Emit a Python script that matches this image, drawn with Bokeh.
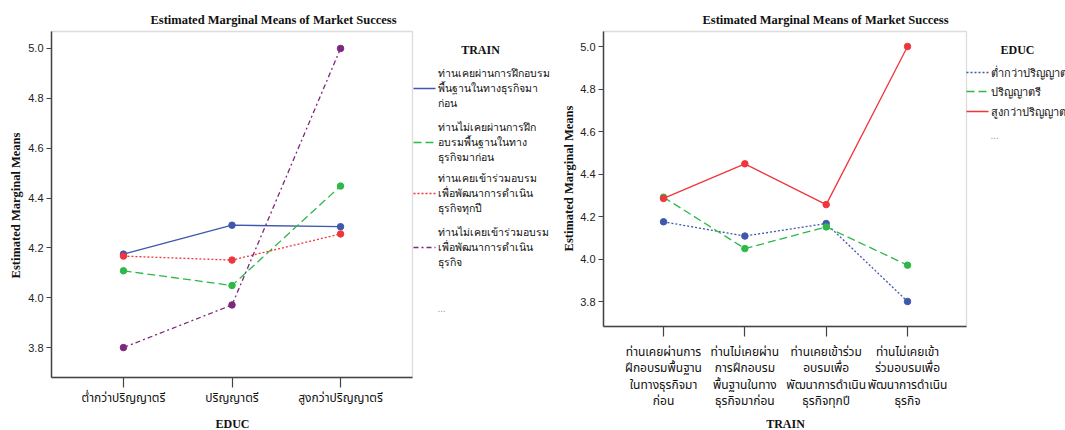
import math
from bokeh.plotting import figure
from bokeh.models import (Range1d, FixedTicker, PrintfTickFormatter, Label, LabelSet,
                          ColumnDataSource, LinearAxis, BoxAnnotation)
from bokeh.embed import file_html
from bokeh.resources import INLINE

# ---------------- data ----------------
educ_labels = ["ต่ำกว่าปริญญาตรี", "ปริญญาตรี", "สูงกว่าปริญญาตรี"]

train_legend_lines = [
    ["ท่านเคยผ่านการฝึกอบรม", "พื้นฐานในทางธุรกิจมา", "ก่อน"],
    ["ท่านไม่เคยผ่านการฝึก", "อบรมพื้นฐานในทาง", "ธุรกิจมาก่อน"],
    ["ท่านเคยเข้าร่วมอบรม", "เพื่อพัฒนาการดำเนิน", "ธุรกิจทุกปี"],
    ["ท่านไม่เคยเข้าร่วมอบรม", "เพื่อพัฒนาการดำเนิน", "ธุรกิจ"],
]
train_tick_labels = [
    "ท่านเคยผ่านการ\nฝึกอบรมพื้นฐาน\nในทางธุรกิจมา\nก่อน",
    "ท่านไม่เคยผ่าน\nการฝึกอบรม\nพื้นฐานในทาง\nธุรกิจมาก่อน",
    "ท่านเคยเข้าร่วม\nอบรมเพื่อ\nพัฒนาการดำเนิน\nธุรกิจทุกปี",
    "ท่านไม่เคยเข้า\nร่วมอบรมเพื่อ\nพัฒนาการดำเนิน\nธุรกิจ",
]

# estimated marginal means: one list per TRAIN level, across EDUC levels
train1_means = [4.175, 4.291, 4.285]
train2_means = [4.108, 4.049, 4.448]
train3_means = [4.167, 4.151, 4.256]
train4_means = [3.800, 3.971, 5.000]
train_means = [train1_means, train2_means, train3_means, train4_means]

y_ticks = [3.8, 4.0, 4.2, 4.4, 4.6, 4.8, 5.0]

title_text = "Estimated Marginal Means of Market Success"
y_title = "Estimated Marginal Means"

# ---------------- styles ----------------
BLUE, GREEN, RED, PURPLE = "#3E58AC", "#2EB848", "#F0353B", "#7C287D"
SERIF = "Liberation Serif"
SANS = "Liberation Sans"
THAI = "'Noto Sans Thai', 'Noto Sans', sans-serif"
FRAME = "#8a8a8a"
AXIS = "#444444"

left_colors = [BLUE, GREEN, RED, PURPLE]
left_dashes = ["solid", "8 4", "2 2", "5 3 2 3"]
right_colors = [BLUE, GREEN, RED]
right_dashes = ["2 2", "8 4", "solid"]

# canvas geometry (page pixels)
CX0, CX1, CY0, CY1 = 0, 1065, 0, 430


def make_mapper(L, R, T, B, xr, yr):
    def fx(px):
        return xr[0] + (px - L) / (R - L) * (xr[1] - xr[0])

    def fy(py):
        return yr[1] - (py - T) / (B - T) * (yr[1] - yr[0])
    return fx, fy


# left chart: plot area in page pixels and its data ranges
LF = (51, 412, 31, 377)
lxr = (-0.663, 2.663)
lyr = (3.68, 5.068)
fx1, fy1 = make_mapper(*LF, lxr, lyr)

# right chart
RF = (603, 966, 31, 326)
rxr = (-0.738, 3.725)
ryr = (3.6824, 5.0706)
fx2, fy2 = make_mapper(*RF, rxr, ryr)

p = figure(width=CX1 - CX0, height=CY1 - CY0,
           x_range=Range1d(fx1(CX0), fx1(CX1)), y_range=Range1d(fy1(CY1), fy1(CY0)),
           x_axis_type=None, y_axis_type=None,
           output_backend="svg", toolbar_location=None, title=None, min_border=0)
p.extra_x_ranges = {"r": Range1d(fx2(CX0), fx2(CX1))}
p.extra_y_ranges = {"r": Range1d(fy2(CY1), fy2(CY0))}
p.outline_line_color = None
p.background_fill_color = "white"
p.border_fill_color = "white"


def add_frame_axes(rn, xr, yr, ticks_x, overrides, x_standoff, x_line_height):
    p.add_layout(BoxAnnotation(left=xr[0], right=xr[1], bottom=yr[0], top=yr[1],
                               fill_color=None, line_color=FRAME, line_width=1.3,
                               level="underlay", x_range_name=rn, y_range_name=rn))
    yax = LinearAxis(fixed_location=xr[0], bounds=yr, ticker=FixedTicker(ticks=y_ticks),
                     formatter=PrintfTickFormatter(format="%.1f"),
                     x_range_name=rn, y_range_name=rn)
    yax.major_tick_out = 5
    yax.major_tick_in = 0
    yax.minor_tick_line_color = None
    yax.axis_line_color = AXIS
    yax.axis_line_width = 1.5
    yax.major_tick_line_color = AXIS
    yax.major_tick_line_width = 1.2
    yax.major_label_text_font = SANS
    yax.major_label_text_font_size = "11px"
    yax.major_label_text_color = "#222222"
    yax.major_label_standoff = 3
    p.add_layout(yax, "left")

    xax = LinearAxis(fixed_location=yr[0], bounds=xr, ticker=FixedTicker(ticks=ticks_x),
                     major_label_overrides=overrides, x_range_name=rn, y_range_name=rn)
    xax.major_tick_out = 10
    xax.major_tick_in = 0
    xax.minor_tick_line_color = None
    xax.axis_line_color = AXIS
    xax.axis_line_width = 1.5
    xax.major_tick_line_color = AXIS
    xax.major_tick_line_width = 1.2
    xax.major_label_text_font = THAI
    xax.major_label_text_font_size = "12px"
    xax.major_label_text_color = "#111111"
    xax.major_label_standoff = x_standoff
    xax.major_label_text_line_height = x_line_height
    p.add_layout(xax, "below")


def add_text(rn, fx, fy, px, py, text, font, size, bold=False, align="center", angle=0,
             color="#111111"):
    p.add_layout(Label(x=fx(px), y=fy(py), text=text, text_font=font, text_font_size=size,
                       text_font_style="bold" if bold else "normal", text_align=align,
                       text_baseline="middle", angle=angle, text_color=color,
                       x_range_name=rn, y_range_name=rn))


# ---------------- left chart: x = EDUC, lines = TRAIN ----------------
educ_x = list(range(len(educ_labels)))
add_frame_axes("default", lxr, lyr, educ_x, {i: lab for i, lab in enumerate(educ_labels)}, 1, 1.2)

for vals, c, d in zip(train_means, left_colors, left_dashes):
    p.line(educ_x, vals, line_color=c, line_width=1.3, line_dash=d)
    p.scatter(educ_x, vals, size=6.5, fill_color=c, line_color=c)

add_text("default", fx1, fy1, 273, 19, title_text, SERIF, "12.5px", bold=True)
add_text("default", fx1, fy1, 15, 205, y_title, SERIF, "12.5px", bold=True, angle=math.pi / 2)
add_text("default", fx1, fy1, 232, 423, "EDUC", SERIF, "12px", bold=True)
add_text("default", fx1, fy1, 480, 49, "TRAIN", SERIF, "12px", bold=True)

item_tops = [73, 127, 178, 232]
lx, ly, lt = [], [], []
for top, lines, c, d in zip(item_tops, train_legend_lines, left_colors, left_dashes):
    for k, t in enumerate(lines):
        lx.append(fx1(437)); ly.append(fy1(top + 15 * k)); lt.append(t)
    p.segment(x0=[fx1(413)], y0=[fy1(top + 15)], x1=[fx1(435)], y1=[fy1(top + 15)],
              line_color=c, line_width=1.3, line_dash=d)
p.add_layout(LabelSet(x="x", y="y", text="t", source=ColumnDataSource(dict(x=lx, y=ly, t=lt)),
                      text_font=THAI, text_font_size="10.5px", text_baseline="middle",
                      text_align="left", text_color="#111111"))
add_text("default", fx1, fy1, 437, 307, "...", SANS, "10px", align="left", color="#999999")

# ---------------- right chart: x = TRAIN, lines = EDUC ----------------
train_x = list(range(len(train_tick_labels)))
add_frame_axes("r", rxr, ryr, train_x, {i: lab for i, lab in enumerate(train_tick_labels)}, 6, 0.92)

for j, (c, d) in enumerate(zip(right_colors, right_dashes)):
    vals = [tm[j] for tm in train_means]
    p.line(train_x, vals, line_color=c, line_width=1.3, line_dash=d,
           x_range_name="r", y_range_name="r")
    p.scatter(train_x, vals, size=6.5, fill_color=c, line_color=c,
              x_range_name="r", y_range_name="r")

add_text("r", fx2, fy2, 825, 19, title_text, SERIF, "12.5px", bold=True)
add_text("r", fx2, fy2, 568, 178, y_title, SERIF, "12.5px", bold=True, angle=math.pi / 2)
add_text("r", fx2, fy2, 785, 423, "TRAIN", SERIF, "12px", bold=True)
add_text("r", fx2, fy2, 1017, 49, "EDUC", SERIF, "12px", bold=True)

r_items = [72, 91, 111]
rx, ry, rt = [], [], []
for yy, lab, c, d in zip(r_items, educ_labels, right_colors, right_dashes):
    rx.append(fx2(990)); ry.append(fy2(yy)); rt.append(lab)
    p.segment(x0=[fx2(966)], y0=[fy2(yy)], x1=[fx2(988)], y1=[fy2(yy)],
              line_color=c, line_width=1.3, line_dash=d, x_range_name="r", y_range_name="r")
p.add_layout(LabelSet(x="x", y="y", text="t", source=ColumnDataSource(dict(x=rx, y=ry, t=rt)),
                      text_font=THAI, text_font_size="11px", text_baseline="middle",
                      text_align="left", text_color="#111111",
                      x_range_name="r", y_range_name="r"))
add_text("r", fx2, fy2, 990, 134, "...", SANS, "10px", align="left", color="#999999")

open("out.html", "w").write(file_html(p, INLINE))
